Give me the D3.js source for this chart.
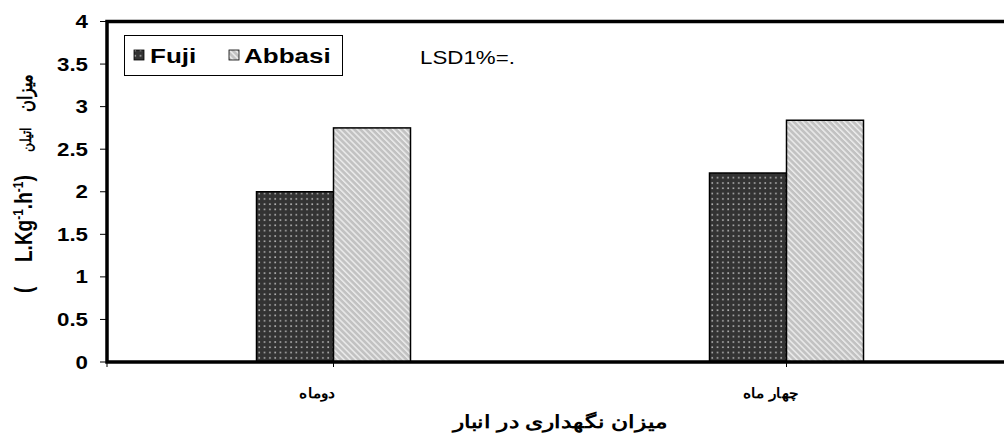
<!DOCTYPE html>
<html>
<head>
<meta charset="utf-8">
<script src="https://cdn.jsdelivr.net/npm/d3@7"></script>
<style>
  body { margin: 0; background: #fff; }
  svg { display: block; font-family: "Liberation Sans", Arial, sans-serif; }
</style>
</head>
<body>
<svg width="1004" height="447"></svg>
<script>
var categories = ["دوماه", "چهار ماه"]
var series = ["Fuji", "Abbasi"]
var fujiValues = [2.0, 2.22]
var abbasiValues = [2.75, 2.84]
var yTicks = [0, 0.5, 1, 1.5, 2, 2.5, 3, 3.5, 4]
var yTickLabels = ["0", "0.5", "1", "1.5", "2", "2.5", "3", "3.5", "4"]

var svg = d3.select('svg')
// plot box (right edge runs past the window, as in the original)
var pLeft = 107, pRight = 1013, pTop = 21.5, pBottom = 362
var stretch = 1.24 // the original picture is stretched sideways

var x = d3.scaleBand().domain(categories).range([pLeft, pRight])
var xs = d3.scaleBand().domain(series).range([0, 154])
var y = d3.scaleLinear().domain([0, 4]).range([pBottom, pTop])

// patterns for the two series
var defs = svg.append('defs')
var dots = defs.append('pattern').attr('id', 'dots')
  .attr('patternUnits', 'userSpaceOnUse').attr('width', 5.3).attr('height', 5.3)
dots.append('rect').attr('width', 5.3).attr('height', 5.3).attr('fill', '#333')
dots.append('rect').attr('x', 2).attr('y', 2).attr('width', 1.6).attr('height', 1.6).attr('fill', '#b4b4b4')

var stripes = defs.append('pattern').attr('id', 'stripes')
  .attr('patternUnits', 'userSpaceOnUse').attr('width', 4.2).attr('height', 4.2)
  .attr('patternTransform', 'rotate(-45)')
stripes.append('rect').attr('width', 4.2).attr('height', 4.2).attr('fill', '#c2c2c2')
stripes.append('rect').attr('width', 1.5).attr('height', 4.2).attr('fill', '#ebebeb')

var fills = {Fuji: 'url(#dots)', Abbasi: 'url(#stripes)'}

// bars
var rows = categories.map(function(c, i) {
  return {cat: c, values: [{s: 'Fuji', v: fujiValues[i]}, {s: 'Abbasi', v: abbasiValues[i]}]}
})
var groups = svg.append('g').selectAll('g').data(rows).enter().append('g')
  .attr('transform', function(d) {return 'translate(' + (x(d.cat) + x.bandwidth() / 2 - 77) + ',0)'})
groups.selectAll('rect').data(function(d) {return d.values}).enter().append('rect')
  .attr('x', function(d) {return xs(d.s)})
  .attr('y', function(d) {return y(d.v)})
  .attr('width', xs.bandwidth())
  .attr('height', function(d) {return pBottom - y(d.v)})
  .attr('fill', function(d) {return fills[d.s]})
  .attr('stroke', '#000').attr('stroke-width', 1.5)

// frame
svg.append('path')
  .attr('d', 'M' + pRight + ',' + pTop + 'H' + pLeft + 'V' + pBottom + 'H' + pRight)
  .attr('fill', 'none').attr('stroke', '#000').attr('stroke-width', 3.5)

// y axis ticks + labels
var yAxis = svg.append('g')
yAxis.selectAll('line').data(yTicks).enter().append('line')
  .attr('x1', 100).attr('x2', pLeft).attr('y1', function(d) {return y(d)}).attr('y2', function(d) {return y(d)})
  .attr('stroke', '#000').attr('stroke-width', 1)
yAxis.selectAll('text').data(yTicks).enter().append('text')
  .attr('transform', function(d) {return 'translate(88,' + (y(d) + 6.5) + ') scale(' + stretch + ',1)'})
  .attr('text-anchor', 'end').attr('font-weight', 'bold').attr('font-size', 18)
  .text(function(d, i) {return yTickLabels[i]})

// x axis ticks + labels
var xTickPos = [pLeft].concat(categories.map(function(c) {return x(c) + x.bandwidth() / 2}))
svg.append('g').selectAll('line').data(xTickPos).enter().append('line')
  .attr('x1', function(d) {return d}).attr('x2', function(d) {return d})
  .attr('y1', pBottom).attr('y2', pBottom + 5)
  .attr('stroke', '#000').attr('stroke-width', 1)
svg.append('g').selectAll('text').data(categories).enter().append('text')
  .attr('transform', function(d) {return 'translate(' + (x(d) + x.bandwidth() / 2 - 16) + ',398) scale(1.1,1)'})
  .attr('text-anchor', 'middle').attr('font-weight', 'bold').attr('font-size', 14)
  .text(function(d) {return d})

svg.append('text')
  .attr('transform', 'translate(' + ((pLeft + pRight) / 2) + ',428) scale(1.3,1)')
  .attr('text-anchor', 'middle').attr('font-weight', 'bold').attr('font-size', 18)
  .text('میزان نگهداری در انبار')

// y label (rotated), pieces laid along the axis
var yl = svg.append('g').attr('transform', 'translate(32,0) scale(' + stretch + ',1) rotate(-90)')
yl.append('text').attr('x', -293).attr('font-weight', 'bold').attr('font-size', 19).text('(')
var t = yl.append('text').attr('x', -262).attr('font-weight', 'bold').attr('font-size', 19)
t.append('tspan').text('L.Kg')
t.append('tspan').attr('dy', -7).attr('font-size', 12).text('-1')
t.append('tspan').attr('dy', 7).text('.h')
t.append('tspan').attr('dy', -7).attr('font-size', 12).text('-1')
t.append('tspan').attr('dy', 7).text(')')
yl.append('text').attr('x', -152).attr('y', -1).attr('font-size', 12).attr('font-weight', 'bold').text('اتیلن')
yl.append('text').attr('x', -112).attr('y', 0).attr('font-size', 16).attr('font-weight', 'bold').text('میزان')

// legend
var lg = svg.append('g')
lg.append('rect').attr('x', 124.5).attr('y', 35.5).attr('width', 218).attr('height', 40)
  .attr('fill', '#fff').attr('stroke', '#000').attr('stroke-width', 1)
var litems = [{s: 'Fuji', x: 134, tx: 150}, {s: 'Abbasi', x: 229, tx: 244}]
lg.selectAll('rect.sw').data(litems).enter().append('rect').attr('class', 'sw')
  .attr('x', function(d) {return d.x}).attr('y', 50).attr('width', 10).attr('height', 10)
  .attr('fill', function(d) {return fills[d.s]}).attr('stroke', '#000').attr('stroke-width', 0.8)
lg.selectAll('text').data(litems).enter().append('text')
  .attr('transform', function(d) {return 'translate(' + d.tx + ',63) scale(' + stretch + ',1)'})
  .attr('font-weight', 'bold').attr('font-size', 21)
  .text(function(d) {return d.s})

svg.append('text').attr('transform', 'translate(420,64) scale(' + stretch + ',1)')
  .attr('font-size', 18).text('LSD1%=.')
</script>
</body>
</html>
